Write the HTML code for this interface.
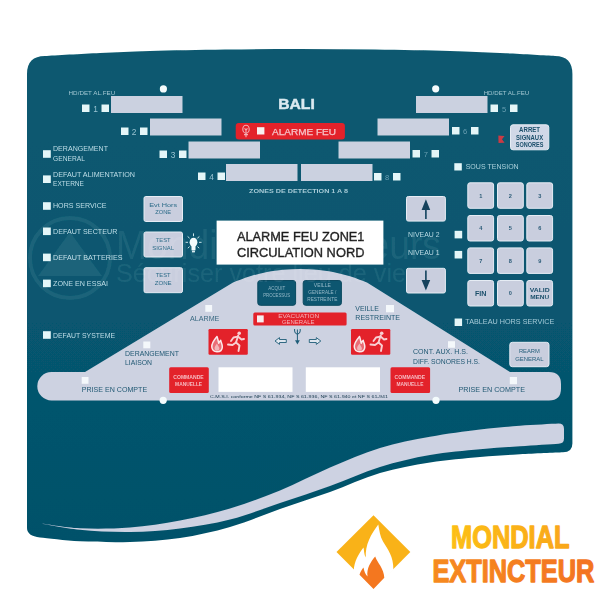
<!DOCTYPE html>
<html><head><meta charset="utf-8"><title>BALI</title>
<style>
html,body{margin:0;padding:0;background:#ffffff;}
body{width:600px;height:600px;overflow:hidden;font-family:"Liberation Sans",sans-serif;}
svg{display:block;}
</style></head>
<body>
<svg width="600" height="600" viewBox="0 0 600 600">
<defs><linearGradient id="pg" x1="0" y1="0" x2="0" y2="1"><stop offset="0" stop-color="#09596f"/><stop offset="0.55" stop-color="#07566f"/><stop offset="1" stop-color="#03516a"/></linearGradient><linearGradient id="gm" gradientUnits="userSpaceOnUse" x1="450" y1="0" x2="570" y2="0"><stop offset="0" stop-color="#fcbf14"/><stop offset="1" stop-color="#f9a61a"/></linearGradient><linearGradient id="ge" gradientUnits="userSpaceOnUse" x1="432" y1="0" x2="595" y2="0"><stop offset="0" stop-color="#f68a1f"/><stop offset="1" stop-color="#f37321"/></linearGradient><filter id="bl" x="0" y="0" width="600" height="600" filterUnits="userSpaceOnUse"><feGaussianBlur stdDeviation="0.45"/></filter></defs>
<rect width="600" height="600" fill="#ffffff"/>
<g filter="url(#bl)">
<path d="M27,74 Q27,56 45,56 C54.2,55.5 82.5,53.8 100.0,53.0 C117.5,52.2 129.2,51.6 150.0,51.0 C170.8,50.4 200.0,49.8 225.0,49.5 C250.0,49.2 275.0,49.0 300.0,49.0 C325.0,49.0 350.0,49.2 375.0,49.5 C400.0,49.8 429.2,50.4 450.0,51.0 C470.8,51.6 482.5,52.2 500.0,53.0 C517.5,53.8 545.8,55.5 555.0,56.0 Q572.4,56 572.4,74 L572.4,443.5 Q572.4,452.3 563,452.3 C555.8,452.6 533.8,453.5 520.0,454.3 C506.2,455.1 495.0,455.6 480.0,457.0 C465.0,458.4 446.7,459.8 430.0,462.5 C413.3,465.2 396.7,468.1 380.0,473.0 C363.3,477.9 346.7,486.0 330.0,492.0 C313.3,498.0 296.7,503.2 280.0,509.0 C263.3,514.8 246.7,522.2 230.0,527.0 C213.3,531.8 196.7,535.5 180.0,538.0 C163.3,540.5 146.7,541.5 130.0,542.0 C113.3,542.5 95.0,542.0 80.0,541.3 C65.0,540.5 46.7,538.1 40.0,537.5 Q27,536 27,528 Z" fill="url(#pg)"/>
<path d="M38,523 C45.0,523.9 64.7,527.5 80.0,528.3 C95.3,529.0 113.3,528.8 130.0,527.5 C146.7,526.2 163.3,523.7 180.0,520.5 C196.7,517.3 213.3,513.5 230.0,508.5 C246.7,503.5 263.3,497.3 280.0,490.5 C296.7,483.7 313.3,474.6 330.0,467.5 C346.7,460.4 363.3,453.1 380.0,448.0 C396.7,442.9 413.3,439.9 430.0,436.8 C446.7,433.7 465.0,431.3 480.0,429.5 C495.0,427.7 506.9,426.8 520.0,425.8 C533.1,424.8 552.1,424.0 558.5,423.6 Q564,423.6 564,429 L564,438.5 Q564,443.7 558.5,443.7 C552.1,444.1 533.1,445.4 520.0,446.3 C506.9,447.2 495.0,447.9 480.0,449.3 C465.0,450.8 446.7,452.1 430.0,455.0 C413.3,457.9 396.7,461.8 380.0,467.0 C363.3,472.2 346.7,480.0 330.0,486.0 C313.3,492.0 296.7,497.4 280.0,503.0 C263.3,508.6 246.7,515.2 230.0,519.5 C213.3,523.8 196.7,526.4 180.0,528.5 C163.3,530.6 146.7,531.8 130.0,532.0 C113.3,532.2 95.3,531.3 80.0,529.8 C64.7,528.3 45.0,524.1 38.0,523.0 Z" fill="#cdd2e2"/>
<path d="M49.5,372 L85,372 L233,282.5 C235.8,281.5 244.3,278.1 250.0,276.3 C255.7,274.6 261.5,273.1 267.0,272.0 C272.5,270.9 277.5,270.3 283.0,269.8 C288.5,269.3 294.3,269.0 300.0,269.0 C305.7,269.0 311.5,269.3 317.0,269.8 C322.5,270.3 327.5,270.9 333.0,272.0 C338.5,273.1 344.3,274.6 350.0,276.3 C355.7,278.1 364.2,281.5 367.0,282.5 L510,372 L549,372 Q561,372 561,384 L561,388.4 Q561,400.4 549,400.4 L51.5,400.4 A14.2,14.2 0 0 1 51.5,372 Z" fill="#cdd2e1"/>
<circle cx="163.4" cy="88.9" r="3.6" fill="#f4fbfc"/>
<circle cx="435.7" cy="88.8" r="3.6" fill="#f4fbfc"/>
<circle cx="163.2" cy="400.3" r="3.6" fill="#f4fbfc"/>
<circle cx="436" cy="400.3" r="3.6" fill="#f4fbfc"/>
<rect x="111" y="96" width="71.5" height="17" fill="#cbd1e0"/>
<rect x="150" y="118.5" width="71.5" height="17" fill="#cbd1e0"/>
<rect x="188.5" y="141.5" width="71.5" height="17" fill="#cbd1e0"/>
<rect x="226" y="164" width="71.5" height="17" fill="#cbd1e0"/>
<rect x="416" y="96" width="71.5" height="17" fill="#cbd1e0"/>
<rect x="377.5" y="118.5" width="71.5" height="17" fill="#cbd1e0"/>
<rect x="338.5" y="141.5" width="71.5" height="17" fill="#cbd1e0"/>
<rect x="301" y="164" width="71.5" height="17" fill="#cbd1e0"/>
<rect x="82.0" y="104.5" width="7.5" height="7.5" fill="#e4f6f8"/>
<rect x="101.5" y="104.5" width="7.5" height="7.5" fill="#e4f6f8"/>
<text x="95.5" y="111.7" font-size="8.4" fill="#9cc3d2" text-anchor="middle" font-weight="normal" font-family="Liberation Sans, sans-serif" >1</text>
<rect x="121.0" y="127.5" width="7.5" height="7.5" fill="#e4f6f8"/>
<rect x="140.0" y="127.5" width="7.5" height="7.5" fill="#e4f6f8"/>
<text x="134.2" y="134.7" font-size="8.4" fill="#9cc3d2" text-anchor="middle" font-weight="normal" font-family="Liberation Sans, sans-serif" >2</text>
<rect x="159.5" y="150.5" width="7.5" height="7.5" fill="#e4f6f8"/>
<rect x="179.0" y="150.5" width="7.5" height="7.5" fill="#e4f6f8"/>
<text x="173.0" y="157.7" font-size="8.4" fill="#9cc3d2" text-anchor="middle" font-weight="normal" font-family="Liberation Sans, sans-serif" >3</text>
<rect x="198.0" y="172.5" width="7.5" height="7.5" fill="#e4f6f8"/>
<rect x="217.5" y="172.5" width="7.5" height="7.5" fill="#e4f6f8"/>
<text x="211.5" y="179.7" font-size="8.4" fill="#9cc3d2" text-anchor="middle" font-weight="normal" font-family="Liberation Sans, sans-serif" >4</text>
<rect x="490.5" y="104.5" width="7.5" height="7.5" fill="#e4f6f8"/>
<rect x="510.0" y="104.5" width="7.5" height="7.5" fill="#e4f6f8"/>
<text x="504.0" y="111.5" font-size="7.6" fill="#6d9fb3" text-anchor="middle" font-weight="normal" font-family="Liberation Sans, sans-serif" >5</text>
<rect x="452.0" y="127.0" width="7.5" height="7.5" fill="#e4f6f8"/>
<rect x="471.0" y="127.0" width="7.5" height="7.5" fill="#e4f6f8"/>
<text x="465.2" y="134.0" font-size="7.6" fill="#6d9fb3" text-anchor="middle" font-weight="normal" font-family="Liberation Sans, sans-serif" >6</text>
<rect x="412.5" y="150.0" width="7.5" height="7.5" fill="#e4f6f8"/>
<rect x="431.5" y="150.0" width="7.5" height="7.5" fill="#e4f6f8"/>
<text x="425.8" y="157.0" font-size="7.6" fill="#6d9fb3" text-anchor="middle" font-weight="normal" font-family="Liberation Sans, sans-serif" >7</text>
<rect x="374.0" y="173.0" width="7.5" height="7.5" fill="#e4f6f8"/>
<rect x="393.0" y="173.0" width="7.5" height="7.5" fill="#e4f6f8"/>
<text x="387.2" y="180.0" font-size="7.6" fill="#6d9fb3" text-anchor="middle" font-weight="normal" font-family="Liberation Sans, sans-serif" >8</text>
<text x="68.6" y="95.0" font-size="4.6" fill="#a5c6d3" text-anchor="start" font-weight="normal" font-family="Liberation Sans, sans-serif" textLength="46.6" lengthAdjust="spacingAndGlyphs" >HD/DET  AL.FEU</text>
<text x="483.7" y="95.0" font-size="4.6" fill="#a5c6d3" text-anchor="start" font-weight="normal" font-family="Liberation Sans, sans-serif" textLength="45.6" lengthAdjust="spacingAndGlyphs" >HD/DET  AL.FEU</text>
<text x="296.5" y="109.3" font-size="14.3" fill="#dbe9f0" text-anchor="middle" font-weight="bold" font-family="Liberation Sans, sans-serif" textLength="36.6" lengthAdjust="spacingAndGlyphs" stroke="#dbe9f0" stroke-width="0.45">BALI</text>
<rect x="235.7" y="123" width="109.2" height="16.4" rx="3" fill="#e3202c"/>
<rect x="257.0" y="127.2" width="7.4" height="7.3" fill="#f8efef"/>
<text x="272.0" y="135.2" font-size="9.6" fill="#f6c4c7" text-anchor="start" font-weight="normal" font-family="Liberation Sans, sans-serif" textLength="64.0" lengthAdjust="spacingAndGlyphs" stroke="#f6c4c7" stroke-width="0.25">ALARME FEU</text>
<g fill="none" stroke="#f3b0b4" stroke-width="1.1"><ellipse cx="246" cy="129.2" rx="3.2" ry="4"/><path d="M244,134.6 L248,134.6 M246,131 L246,137.3 M244.6,128.2 L246,130.4 L247.4,128.2"/></g>
<text x="298.5" y="193.2" font-size="5.2" fill="#a9cad7" text-anchor="middle" font-weight="bold" font-family="Liberation Sans, sans-serif" textLength="99.0" lengthAdjust="spacingAndGlyphs" >ZONES DE DETECTION 1 A 8</text>
<rect x="43.0" y="150.2" width="7.8" height="7.6" fill="#e4f6f8"/>
<text x="53.0" y="151.3" font-size="7.4" fill="#c2dde8" text-anchor="start" font-weight="normal" font-family="Liberation Sans, sans-serif" textLength="55.0" lengthAdjust="spacingAndGlyphs" >DERANGEMENT</text>
<text x="53.0" y="160.5" font-size="7.4" fill="#c2dde8" text-anchor="start" font-weight="normal" font-family="Liberation Sans, sans-serif" textLength="32.0" lengthAdjust="spacingAndGlyphs" >GENERAL</text>
<rect x="43.0" y="175.4" width="7.8" height="7.6" fill="#e4f6f8"/>
<text x="53.0" y="177.2" font-size="7.4" fill="#c2dde8" text-anchor="start" font-weight="normal" font-family="Liberation Sans, sans-serif" textLength="82.0" lengthAdjust="spacingAndGlyphs" >DEFAUT ALIMENTATION</text>
<text x="53.0" y="186.0" font-size="7.4" fill="#c2dde8" text-anchor="start" font-weight="normal" font-family="Liberation Sans, sans-serif" textLength="31.0" lengthAdjust="spacingAndGlyphs" >EXTERNE</text>
<rect x="43.0" y="202.2" width="7.8" height="7.6" fill="#e4f6f8"/>
<text x="53.0" y="208.0" font-size="7.4" fill="#c2dde8" text-anchor="start" font-weight="normal" font-family="Liberation Sans, sans-serif" textLength="53.5" lengthAdjust="spacingAndGlyphs" >HORS SERVICE</text>
<rect x="43.0" y="227.5" width="7.8" height="7.6" fill="#e4f6f8"/>
<text x="53.0" y="234.0" font-size="7.4" fill="#c2dde8" text-anchor="start" font-weight="normal" font-family="Liberation Sans, sans-serif" textLength="64.3" lengthAdjust="spacingAndGlyphs" >DEFAUT SECTEUR</text>
<rect x="43.0" y="253.6" width="7.8" height="7.6" fill="#e4f6f8"/>
<text x="53.0" y="260.0" font-size="7.4" fill="#c2dde8" text-anchor="start" font-weight="normal" font-family="Liberation Sans, sans-serif" textLength="69.5" lengthAdjust="spacingAndGlyphs" >DEFAUT BATTERIES</text>
<rect x="43.0" y="279.6" width="7.8" height="7.6" fill="#e4f6f8"/>
<text x="53.0" y="285.6" font-size="7.4" fill="#c2dde8" text-anchor="start" font-weight="normal" font-family="Liberation Sans, sans-serif" textLength="55.0" lengthAdjust="spacingAndGlyphs" >ZONE EN ESSAI</text>
<rect x="43.0" y="331.2" width="7.8" height="7.6" fill="#e4f6f8"/>
<text x="53.0" y="337.8" font-size="7.4" fill="#c2dde8" text-anchor="start" font-weight="normal" font-family="Liberation Sans, sans-serif" textLength="62.0" lengthAdjust="spacingAndGlyphs" >DEFAUT SYSTEME</text>
<rect x="144.0" y="196.5" width="38.5" height="25.0" rx="1.8" fill="#c9cede" stroke="#e6ecf4" stroke-width="1"/>
<text x="163.2" y="206.5" font-size="6.2" fill="#2d6c89" text-anchor="middle" font-weight="normal" font-family="Liberation Sans, sans-serif" textLength="28.0" lengthAdjust="spacingAndGlyphs" >Evt Hors</text>
<text x="163.2" y="213.9" font-size="6.2" fill="#2d6c89" text-anchor="middle" font-weight="normal" font-family="Liberation Sans, sans-serif" textLength="16.0" lengthAdjust="spacingAndGlyphs" >ZONE</text>
<rect x="144.0" y="232.0" width="38.5" height="25.0" rx="1.8" fill="#c9cede" stroke="#e6ecf4" stroke-width="1"/>
<text x="163.2" y="241.5" font-size="6.2" fill="#2d6c89" text-anchor="middle" font-weight="normal" font-family="Liberation Sans, sans-serif" textLength="15.0" lengthAdjust="spacingAndGlyphs" >TEST</text>
<text x="163.2" y="249.9" font-size="6.2" fill="#2d6c89" text-anchor="middle" font-weight="normal" font-family="Liberation Sans, sans-serif" textLength="22.0" lengthAdjust="spacingAndGlyphs" >SIGNAL</text>
<rect x="144.0" y="267.7" width="38.5" height="25.0" rx="1.8" fill="#c9cede" stroke="#e6ecf4" stroke-width="1"/>
<text x="163.2" y="277.1" font-size="6.2" fill="#2d6c89" text-anchor="middle" font-weight="normal" font-family="Liberation Sans, sans-serif" textLength="15.0" lengthAdjust="spacingAndGlyphs" >TEST</text>
<text x="163.2" y="285.3" font-size="6.2" fill="#2d6c89" text-anchor="middle" font-weight="normal" font-family="Liberation Sans, sans-serif" textLength="17.0" lengthAdjust="spacingAndGlyphs" >ZONE</text>
<g><ellipse cx="193.5" cy="242.3" rx="3.9" ry="4.5" fill="#f3fbfc"/><rect x="191.5" y="245.5" width="4" height="4.8" fill="#f3fbfc"/><rect x="192" y="250.6" width="3" height="1.8" fill="#d5e9ee"/><g stroke="#cfe6ec" stroke-width="1"><path d="M193.5,233.4 L193.5,236.2 M185.6,242.3 L188,242.3 M199,242.3 L201.6,242.3 M187.6,236.4 L189.6,238.2 M199.4,236.4 L197.4,238.2 M187.8,248.2 L189.6,246.6 M199.2,248.2 L197.4,246.6"/></g></g>
<rect x="216.6" y="220.6" width="166.8" height="44" fill="#ffffff"/>
<text x="300.7" y="240.6" font-size="12.4" fill="#1e1e1e" text-anchor="middle" font-weight="normal" font-family="Liberation Sans, sans-serif" textLength="127.5" lengthAdjust="spacingAndGlyphs" stroke="#1e1e1e" stroke-width="0.35">ALARME FEU ZONE1</text>
<text x="300.7" y="256.5" font-size="12.4" fill="#1e1e1e" text-anchor="middle" font-weight="normal" font-family="Liberation Sans, sans-serif" textLength="127.5" lengthAdjust="spacingAndGlyphs" stroke="#1e1e1e" stroke-width="0.35">CIRCULATION NORD</text>
<rect x="406.5" y="196.5" width="38.9" height="24.6" rx="1.8" fill="#c9cede" stroke="#e6ecf4" stroke-width="1"/>
<path d="M425.9,219.0 L425.9,208.8" stroke="#12425c" stroke-width="1.6"/><path d="M425.9,199.2 L421.6,210.0 L430.2,210.0 Z" fill="#12425c"/>
<rect x="406.5" y="268.3" width="38.9" height="24.7" rx="1.8" fill="#c9cede" stroke="#e6ecf4" stroke-width="1"/>
<path d="M425.9,270.5 L425.9,280.7" stroke="#12425c" stroke-width="1.6"/><path d="M425.9,290.5 L421.6,279.9 L430.2,279.9 Z" fill="#12425c"/>
<text x="408.0" y="236.9" font-size="6.6" fill="#bcd9e4" text-anchor="start" font-weight="normal" font-family="Liberation Sans, sans-serif" textLength="31.5" lengthAdjust="spacingAndGlyphs" >NIVEAU 2</text>
<rect x="454.6" y="230.8" width="7.6" height="7.6" fill="#e4f6f8"/>
<text x="408.0" y="255.4" font-size="6.6" fill="#bcd9e4" text-anchor="start" font-weight="normal" font-family="Liberation Sans, sans-serif" textLength="31.5" lengthAdjust="spacingAndGlyphs" >NIVEAU 1</text>
<rect x="454.6" y="250.9" width="7.6" height="7.6" fill="#e4f6f8"/>
<rect x="467.8" y="182.8" width="25.8" height="25.5" rx="2.2" fill="#c9cede" stroke="#e6ecf4" stroke-width="1"/>
<text x="480.7" y="197.6" font-size="5.6" fill="#2b5b77" text-anchor="middle" font-weight="bold" font-family="Liberation Sans, sans-serif" >1</text>
<rect x="497.5" y="182.8" width="25.8" height="25.5" rx="2.2" fill="#c9cede" stroke="#e6ecf4" stroke-width="1"/>
<text x="510.4" y="197.6" font-size="5.6" fill="#2b5b77" text-anchor="middle" font-weight="bold" font-family="Liberation Sans, sans-serif" >2</text>
<rect x="526.8" y="182.8" width="25.8" height="25.5" rx="2.2" fill="#c9cede" stroke="#e6ecf4" stroke-width="1"/>
<text x="539.7" y="197.6" font-size="5.6" fill="#2b5b77" text-anchor="middle" font-weight="bold" font-family="Liberation Sans, sans-serif" >3</text>
<rect x="467.8" y="215.5" width="25.8" height="25.5" rx="2.2" fill="#c9cede" stroke="#e6ecf4" stroke-width="1"/>
<text x="480.7" y="230.3" font-size="5.6" fill="#2b5b77" text-anchor="middle" font-weight="bold" font-family="Liberation Sans, sans-serif" >4</text>
<rect x="497.5" y="215.5" width="25.8" height="25.5" rx="2.2" fill="#c9cede" stroke="#e6ecf4" stroke-width="1"/>
<text x="510.4" y="230.3" font-size="5.6" fill="#2b5b77" text-anchor="middle" font-weight="bold" font-family="Liberation Sans, sans-serif" >5</text>
<rect x="526.8" y="215.5" width="25.8" height="25.5" rx="2.2" fill="#c9cede" stroke="#e6ecf4" stroke-width="1"/>
<text x="539.7" y="230.3" font-size="5.6" fill="#2b5b77" text-anchor="middle" font-weight="bold" font-family="Liberation Sans, sans-serif" >6</text>
<rect x="467.8" y="247.9" width="25.8" height="25.5" rx="2.2" fill="#c9cede" stroke="#e6ecf4" stroke-width="1"/>
<text x="480.7" y="262.7" font-size="5.6" fill="#2b5b77" text-anchor="middle" font-weight="bold" font-family="Liberation Sans, sans-serif" >7</text>
<rect x="497.5" y="247.9" width="25.8" height="25.5" rx="2.2" fill="#c9cede" stroke="#e6ecf4" stroke-width="1"/>
<text x="510.4" y="262.7" font-size="5.6" fill="#2b5b77" text-anchor="middle" font-weight="bold" font-family="Liberation Sans, sans-serif" >8</text>
<rect x="526.8" y="247.9" width="25.8" height="25.5" rx="2.2" fill="#c9cede" stroke="#e6ecf4" stroke-width="1"/>
<text x="539.7" y="262.7" font-size="5.6" fill="#2b5b77" text-anchor="middle" font-weight="bold" font-family="Liberation Sans, sans-serif" >9</text>
<rect x="467.8" y="280.5" width="25.8" height="25.5" rx="2.2" fill="#c9cede" stroke="#e6ecf4" stroke-width="1"/>
<text x="480.7" y="295.5" font-size="6.3" fill="#1b4f6b" text-anchor="middle" font-weight="bold" font-family="Liberation Sans, sans-serif" textLength="11.5" lengthAdjust="spacingAndGlyphs" >FIN</text>
<rect x="497.5" y="280.5" width="25.8" height="25.5" rx="2.2" fill="#c9cede" stroke="#e6ecf4" stroke-width="1"/>
<text x="510.4" y="295.3" font-size="5.6" fill="#2b5b77" text-anchor="middle" font-weight="bold" font-family="Liberation Sans, sans-serif" >0</text>
<rect x="526.8" y="280.5" width="25.8" height="25.5" rx="2.2" fill="#c9cede" stroke="#e6ecf4" stroke-width="1"/>
<text x="539.7" y="291.7" font-size="6" fill="#1b4f6b" text-anchor="middle" font-weight="bold" font-family="Liberation Sans, sans-serif" textLength="20.0" lengthAdjust="spacingAndGlyphs" >VALID</text>
<text x="539.7" y="299.1" font-size="6" fill="#1b4f6b" text-anchor="middle" font-weight="bold" font-family="Liberation Sans, sans-serif" textLength="19.0" lengthAdjust="spacingAndGlyphs" >MENU</text>
<rect x="510.5" y="124.8" width="38.3" height="25.0" rx="2.5" fill="#d0d8e7" stroke="#e6ecf4" stroke-width="1"/>
<text x="529.6" y="132.3" font-size="6.3" fill="#1b4f6b" text-anchor="middle" font-weight="bold" font-family="Liberation Sans, sans-serif" textLength="21.0" lengthAdjust="spacingAndGlyphs" >ARRET</text>
<text x="529.6" y="139.6" font-size="6.3" fill="#1b4f6b" text-anchor="middle" font-weight="bold" font-family="Liberation Sans, sans-serif" textLength="27.0" lengthAdjust="spacingAndGlyphs" >SIGNAUX</text>
<text x="529.6" y="146.9" font-size="6.3" fill="#1b4f6b" text-anchor="middle" font-weight="bold" font-family="Liberation Sans, sans-serif" textLength="27.5" lengthAdjust="spacingAndGlyphs" >SONORES</text>
<path d="M498.3,135.6 L504.6,136 L502,139.3 L504.6,142.8 L498.5,143 Z" fill="#c93a44"/>
<rect x="454.3" y="163.2" width="7.5" height="7.3" fill="#e4f6f8"/>
<text x="465.7" y="168.9" font-size="6.3" fill="#afd0dc" text-anchor="start" font-weight="normal" font-family="Liberation Sans, sans-serif" textLength="53.0" lengthAdjust="spacingAndGlyphs" >SOUS TENSION</text>
<rect x="454.6" y="318.5" width="7.5" height="7.5" fill="#e4f6f8"/>
<text x="465.3" y="324.4" font-size="6.8" fill="#a9cbd9" text-anchor="start" font-weight="normal" font-family="Liberation Sans, sans-serif" textLength="89.0" lengthAdjust="spacingAndGlyphs" >TABLEAU HORS SERVICE</text>
<rect x="509.8" y="342.3" width="39.2" height="24.4" rx="2.5" fill="#c9cede" stroke="#e6ecf4" stroke-width="1"/>
<text x="529.4" y="352.8" font-size="6" fill="#255f7c" text-anchor="middle" font-weight="normal" font-family="Liberation Sans, sans-serif" textLength="21.0" lengthAdjust="spacingAndGlyphs" >REARM</text>
<text x="529.4" y="360.5" font-size="6" fill="#255f7c" text-anchor="middle" font-weight="normal" font-family="Liberation Sans, sans-serif" textLength="28.5" lengthAdjust="spacingAndGlyphs" >GENERAL</text>
<rect x="257.8" y="280.5" width="37.8" height="24.8" rx="2.5" fill="#0e5670" stroke="#0b4960" stroke-width="1"/>
<text x="276.7" y="290.4" font-size="4.8" fill="#94b9c8" text-anchor="middle" font-weight="normal" font-family="Liberation Sans, sans-serif" textLength="17.0" lengthAdjust="spacingAndGlyphs" >ACQUIT</text>
<text x="276.7" y="297.2" font-size="4.8" fill="#94b9c8" text-anchor="middle" font-weight="normal" font-family="Liberation Sans, sans-serif" textLength="27.0" lengthAdjust="spacingAndGlyphs" >PROCESSUS</text>
<rect x="303.2" y="280.5" width="38.2" height="24.8" rx="2.5" fill="#0e5670" stroke="#0b4960" stroke-width="1"/>
<text x="322.3" y="287.0" font-size="4.8" fill="#94b9c8" text-anchor="middle" font-weight="normal" font-family="Liberation Sans, sans-serif" textLength="17.0" lengthAdjust="spacingAndGlyphs" >VEILLE</text>
<text x="322.3" y="293.8" font-size="4.8" fill="#94b9c8" text-anchor="middle" font-weight="normal" font-family="Liberation Sans, sans-serif" textLength="28.0" lengthAdjust="spacingAndGlyphs" >GENERALE /</text>
<text x="322.3" y="300.6" font-size="4.8" fill="#94b9c8" text-anchor="middle" font-weight="normal" font-family="Liberation Sans, sans-serif" textLength="30.0" lengthAdjust="spacingAndGlyphs" >RESTREINTE</text>
<rect x="253.3" y="312.4" width="93.3" height="13.2" rx="1.5" fill="#e3202c"/>
<rect x="257.0" y="315.4" width="6.7" height="7.0" fill="#f7eeee"/>
<text x="298.7" y="318.2" font-size="5.2" fill="#f4b4b8" text-anchor="middle" font-weight="normal" font-family="Liberation Sans, sans-serif" textLength="41.0" lengthAdjust="spacingAndGlyphs" >EVACUATION</text>
<text x="298.2" y="323.6" font-size="5.2" fill="#f4b4b8" text-anchor="middle" font-weight="normal" font-family="Liberation Sans, sans-serif" textLength="32.5" lengthAdjust="spacingAndGlyphs" >GENERALE</text>
<rect x="208.5" y="329.0" width="39.3" height="25.7" rx="1.2" fill="#e3202c"/>
<path d="M217.0,336.5 c-3,3.5 -5.5,6.5 -5.2,10.5 c0.3,3 2.3,4.7 5.2,4.7 c3,0 5.2,-1.8 5.3,-4.8 c0.1,-3 -1.3,-4.4 -1.6,-6.6 c-1.3,1 -1.8,2 -1.9,3 c-0.6,-2.2 -0.9,-4.4 -1.8,-6.8 Z" fill="#ea6c75" stroke="#fbeaea" stroke-width="1.5" stroke-linejoin="round"/>
<path d="M217.0,343.5 c-1.5,2 -2.6,3.4 -2.4,5.2 c0.2,1.4 1.1,2.1 2.4,2.1 c1.4,0 2.4,-0.8 2.4,-2.2 c0,-1.6 -1.3,-2.6 -2.4,-5.1 Z" fill="#f3b4b8"/>
<g stroke="#f8d0d2" stroke-width="1.9" stroke-linecap="round" stroke-linejoin="round" fill="none"><circle cx="239.2" cy="333.2" r="1.8" fill="#f8d0d2" stroke="none"/><path d="M238.2,335.5 L236.0,342.5"/><path d="M238.0,336.5 L241.5,339.5 L244.0,339.0"/><path d="M237.6,336.6 L233.5,337.5 L231.0,341.0"/><path d="M236.0,342.5 L239.5,345.5 L238.5,351.0"/><path d="M236.0,342.5 L232.5,345.0 L228.0,344.5"/></g>
<rect x="351.0" y="329.0" width="39.3" height="25.7" rx="1.2" fill="#e3202c"/>
<path d="M359.5,336.5 c-3,3.5 -5.5,6.5 -5.2,10.5 c0.3,3 2.3,4.7 5.2,4.7 c3,0 5.2,-1.8 5.3,-4.8 c0.1,-3 -1.3,-4.4 -1.6,-6.6 c-1.3,1 -1.8,2 -1.9,3 c-0.6,-2.2 -0.9,-4.4 -1.8,-6.8 Z" fill="#ea6c75" stroke="#fbeaea" stroke-width="1.5" stroke-linejoin="round"/>
<path d="M359.5,343.5 c-1.5,2 -2.6,3.4 -2.4,5.2 c0.2,1.4 1.1,2.1 2.4,2.1 c1.4,0 2.4,-0.8 2.4,-2.2 c0,-1.6 -1.3,-2.6 -2.4,-5.1 Z" fill="#f3b4b8"/>
<g stroke="#f8d0d2" stroke-width="1.9" stroke-linecap="round" stroke-linejoin="round" fill="none"><circle cx="381.7" cy="333.2" r="1.8" fill="#f8d0d2" stroke="none"/><path d="M380.7,335.5 L378.5,342.5"/><path d="M380.5,336.5 L384.0,339.5 L386.5,339.0"/><path d="M380.1,336.6 L376.0,337.5 L373.5,341.0"/><path d="M378.5,342.5 L382.0,345.5 L381.0,351.0"/><path d="M378.5,342.5 L375.0,345.0 L370.5,344.5"/></g>
<path d="M275,341 L279.5,337.6 L279.5,339.5 L286.3,339.5 L286.3,342.5 L279.5,342.5 L279.5,344.4 Z" fill="#dfe6ee" stroke="#1f5d78" stroke-width="0.9" stroke-linejoin="round"/>
<path d="M320.8,341 L316.3,337.6 L316.3,339.5 L309.3,339.5 L309.3,342.5 L316.3,342.5 L316.3,344.4 Z" fill="#dfe6ee" stroke="#1f5d78" stroke-width="0.9" stroke-linejoin="round"/>
<g stroke="#1f5d78" stroke-width="1" fill="none"><path d="M294.6,329 L294.6,331 Q294.6,333.5 297.4,334.3 Q300.2,333.5 300.2,331 L300.2,329"/><path d="M297.4,329.5 L297.4,341"/></g><path d="M297.4,344.6 L295,340.3 L299.8,340.3 Z" fill="#1f5d78"/>
<rect x="205.3" y="305.0" width="6.8" height="6.8" fill="#f4f8fb"/>
<text x="204.7" y="320.5" font-size="6.4" fill="#3a6a82" text-anchor="middle" font-weight="normal" font-family="Liberation Sans, sans-serif" textLength="29.3" lengthAdjust="spacingAndGlyphs" >ALARME</text>
<rect x="386.0" y="305.0" width="8.0" height="7.3" fill="#f4f8fb"/>
<text x="355.3" y="310.9" font-size="7" fill="#1f5772" text-anchor="start" font-weight="normal" font-family="Liberation Sans, sans-serif" textLength="23.5" lengthAdjust="spacingAndGlyphs" >VEILLE</text>
<text x="355.3" y="320.0" font-size="7" fill="#1f5772" text-anchor="start" font-weight="normal" font-family="Liberation Sans, sans-serif" textLength="44.7" lengthAdjust="spacingAndGlyphs" >RESTREINTE</text>
<rect x="143.3" y="341.5" width="7.0" height="6.8" fill="#f4f8fb"/>
<text x="125.0" y="355.6" font-size="6.8" fill="#1f5772" text-anchor="start" font-weight="normal" font-family="Liberation Sans, sans-serif" textLength="54.0" lengthAdjust="spacingAndGlyphs" >DERANGEMENT</text>
<text x="125.0" y="365.4" font-size="6.8" fill="#1f5772" text-anchor="start" font-weight="normal" font-family="Liberation Sans, sans-serif" textLength="27.0" lengthAdjust="spacingAndGlyphs" >LIAISON</text>
<rect x="81.7" y="377.0" width="6.8" height="6.8" fill="#f4f8fb"/>
<text x="81.7" y="392.4" font-size="6.8" fill="#1f5772" text-anchor="start" font-weight="normal" font-family="Liberation Sans, sans-serif" textLength="65.5" lengthAdjust="spacingAndGlyphs" >PRISE EN COMPTE</text>
<rect x="448.0" y="341.2" width="7.0" height="6.6" fill="#f4f8fb"/>
<text x="413.0" y="354.3" font-size="6.6" fill="#1f5772" text-anchor="start" font-weight="normal" font-family="Liberation Sans, sans-serif" textLength="55.0" lengthAdjust="spacingAndGlyphs" >CONT. AUX. H.S.</text>
<text x="413.0" y="364.2" font-size="6.6" fill="#1f5772" text-anchor="start" font-weight="normal" font-family="Liberation Sans, sans-serif" textLength="67.0" lengthAdjust="spacingAndGlyphs" >DIFF. SONORES H.S.</text>
<rect x="509.8" y="377.0" width="7.2" height="7.2" fill="#f4f8fb"/>
<text x="458.5" y="392.0" font-size="6.8" fill="#1f5772" text-anchor="start" font-weight="normal" font-family="Liberation Sans, sans-serif" textLength="66.5" lengthAdjust="spacingAndGlyphs" >PRISE EN COMPTE</text>
<rect x="218.5" y="367.3" width="74" height="24.6" fill="#ffffff"/>
<rect x="305.8" y="367.3" width="74.2" height="24.6" fill="#ffffff"/>
<rect x="169.2" y="367.3" width="39.6" height="25.7" rx="1.5" fill="#e3202c"/>
<text x="188.5" y="379.2" font-size="5" fill="#f6bcc0" text-anchor="middle" font-weight="bold" font-family="Liberation Sans, sans-serif" textLength="30.5" lengthAdjust="spacingAndGlyphs" >COMMANDE</text>
<text x="188.6" y="386.3" font-size="5" fill="#f6bcc0" text-anchor="middle" font-weight="bold" font-family="Liberation Sans, sans-serif" textLength="27.0" lengthAdjust="spacingAndGlyphs" >MANUELLE</text>
<rect x="390.5" y="367.3" width="39.6" height="25.7" rx="1.5" fill="#e3202c"/>
<text x="409.8" y="379.2" font-size="5" fill="#f6bcc0" text-anchor="middle" font-weight="bold" font-family="Liberation Sans, sans-serif" textLength="30.5" lengthAdjust="spacingAndGlyphs" >COMMANDE</text>
<text x="409.9" y="386.3" font-size="5" fill="#f6bcc0" text-anchor="middle" font-weight="bold" font-family="Liberation Sans, sans-serif" textLength="27.0" lengthAdjust="spacingAndGlyphs" >MANUELLE</text>
<text x="210.0" y="398.3" font-size="3.9" fill="#15384c" text-anchor="start" font-weight="normal" font-family="Liberation Sans, sans-serif" textLength="178.0" lengthAdjust="spacingAndGlyphs" font-weight="bold">C.M.S.I. conforme NF S 61-934, NF S 61-936, NF S 61-940 et NF S 61-941</text>
<g opacity="0.075" fill="#ffffff"><text x="116" y="259" font-size="40" font-family="Liberation Sans, sans-serif" textLength="325" lengthAdjust="spacingAndGlyphs">Mondial Extincteurs</text><text x="116" y="282" font-size="25" font-family="Liberation Sans, sans-serif" textLength="290" lengthAdjust="spacingAndGlyphs">Sécuriser votre lieu de vie</text><circle cx="70" cy="258" r="40" fill="none" stroke="#ffffff" stroke-width="4"/><path d="M38,276 L70,232 L102,276 Z"/></g>
</g>
<path d="M373.5,515.3 L410.3,552 L373.5,589 L336.5,552 Z" fill="#f9b218"/>
<path d="M378.3,524.5 C379.5,531 380,536 383,541.5 C388,550 393.5,556 393.4,570 L373.5,590.5 L353.8,571 C354,561 359,553.5 363.5,547.5 C364.2,551 364,554.5 365.8,557.5 C365,545 371,534 378.3,524.5 Z" fill="#ffffff"/>
<path d="M375.2,556.5 C377.5,563 384,568.5 384.3,577.8 L373.5,589 L359.5,574.8 C360.5,571.5 361.8,569.5 363.5,567.5 C364.2,571.5 365.5,574.5 367.5,576.5 C366.5,568.5 370.5,562 375.2,556.5 Z" fill="#f4771f"/>
<text x="451" y="548" font-size="31.6" font-weight="bold" fill="url(#gm)" stroke="url(#gm)" stroke-width="1.3" stroke-linejoin="round" font-family="Liberation Sans, sans-serif" textLength="118.5" lengthAdjust="spacingAndGlyphs">MONDIAL</text>
<text x="432.4" y="581.6" font-size="31.6" font-weight="bold" fill="url(#ge)" stroke="url(#ge)" stroke-width="1.3" stroke-linejoin="round" font-family="Liberation Sans, sans-serif" textLength="162" lengthAdjust="spacingAndGlyphs">EXTINCTEUR</text>
</svg>
</body></html>
